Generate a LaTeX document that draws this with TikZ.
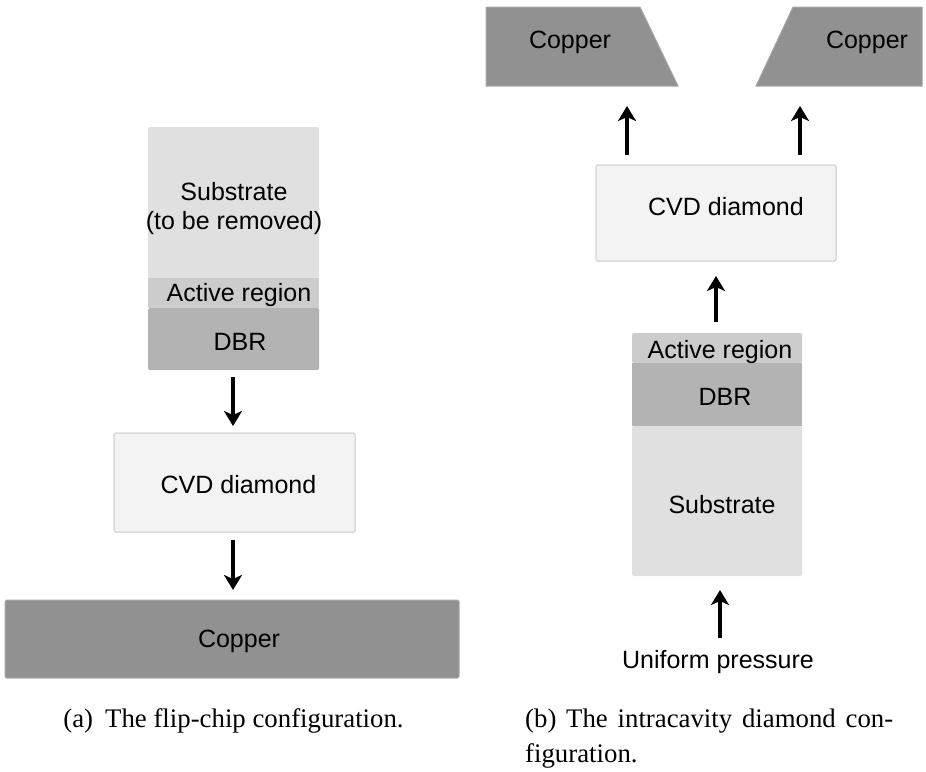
\documentclass[tikz,border=0pt]{standalone}
\usepackage{fontspec}
\setmainfont{Liberation Serif}
\newfontfamily\labelfont{Liberation Sans}
\usetikzlibrary{arrows.meta}
\definecolor{cucol}{HTML}{919191}
\definecolor{subcol}{HTML}{E0E0E0}
\definecolor{actcol}{HTML}{CCCCCC}
\definecolor{dbrcol}{HTML}{B3B3B3}
\definecolor{cvdcol}{HTML}{F3F3F3}
\definecolor{cvdedge}{HTML}{DADADA}
\begin{document}
\begin{tikzpicture}[x=1pt,y=-1pt,
  layer/.style={inner sep=0pt, outer sep=0pt, rounded corners=1.5pt},
  lbl/.style={inner sep=0pt, font=\labelfont\fontsize{25}{29}\selectfont, align=center},
  captext/.style={inner sep=0pt, font=\fontsize{26.8}{32}\selectfont},
  pusharrow/.style={line width=3.5pt, -{Stealth[length=15pt,width=18pt,inset=4pt]}}]
\useasboundingbox (0,0) rectangle (926,771);
% ---------- (a) flip-chip ----------
\node[layer, fill=subcol, minimum width=171pt, minimum height=151pt] (subA) at (233.5,202.5) {};
\node[layer, fill=actcol, minimum width=171pt, minimum height=30pt, rounded corners=0pt] (actA) at (233.5,293) {};
\node[layer, fill=dbrcol, minimum width=171pt, minimum height=62pt] (dbrA) at (233.5,339) {};
\node[lbl] (tsubA) at (234,209) {Substrate\\(to be removed)};
\node[lbl] (tactA) at (239,295) {Active region};
\node[lbl] (tdbrA) at (240,342) {DBR};
\node[layer, fill=cvdcol, draw=cvdedge, line width=1.5pt, minimum width=241pt, minimum height=99pt] (cvdA) at (234.5,482.5) {};
\node[lbl] (tcvdA) at (238.5,485) {CVD diamond};
\node[layer, fill=cucol, draw=cucol!80!white, line width=1pt, minimum width=454pt, minimum height=78pt] (cuA) at (232,639) {};
\node[lbl] (tcuA) at (239,641) {Copper};
\coordinate (a1s) at (233,377); \coordinate (a1e) at (233,426);
\coordinate (a2s) at (233,540); \coordinate (a2e) at (233,590);
\draw[pusharrow] (a1s) -- (a1e);
\draw[pusharrow] (a2s) -- (a2e);
% ---------- (b) intracavity ----------
\draw[fill=cucol, draw=cucol!80!white, line width=1pt] (486,7) -- (640,7) -- (678,86) -- (486,86) -- cycle;
\draw[fill=cucol, draw=cucol!80!white, line width=1pt] (793,7) -- (922,7) -- (922,86) -- (756,86) -- cycle;
\node[lbl] (tcuL) at (570,42) {Copper};
\node[lbl] (tcuR) at (867,42) {Copper};
\node[layer, fill=cvdcol, draw=cvdedge, line width=1.5pt, minimum width=240pt, minimum height=96pt] (cvdB) at (716,213) {};
\node[lbl] (tcvdB) at (726,207) {CVD diamond};
\node[layer, fill=actcol, minimum width=170pt, minimum height=30pt] (actB) at (717,348) {};
\node[layer, fill=dbrcol, minimum width=170pt, minimum height=63pt, rounded corners=0pt] (dbrB) at (717,394.5) {};
\node[layer, fill=subcol, minimum width=170pt, minimum height=150pt] (subB) at (717,501) {};
\node[lbl] (tactB) at (720,352) {Active region};
\node[lbl] (tdbrB) at (725,397) {DBR};
\node[lbl] (tsubB) at (722,505) {Substrate};
\node[lbl] (tpress) at (718,662) {Uniform pressure};
\coordinate (b1s) at (627,155); \coordinate (b1e) at (627,106);
\coordinate (b2s) at (800,155); \coordinate (b2e) at (800,106);
\coordinate (b3s) at (716,322); \coordinate (b3e) at (716,276);
\coordinate (b4s) at (720,638); \coordinate (b4e) at (720,590);
\draw[pusharrow] (b1s) -- (b1e);
\draw[pusharrow] (b2s) -- (b2e);
\draw[pusharrow] (b3s) -- (b3e);
\draw[pusharrow] (b4s) -- (b4e);
% ---------- captions ----------
\node[captext, anchor=base] (capA) at (233.5,727) {(a)\hspace{0.45em}The flip-chip configuration.};
\node[captext, anchor=base west] (capB) at (525,727) {\makebox[368pt][s]{(b) The intracavity diamond con-}};
\node[captext, anchor=base west] (capB2) at (525,762) {figuration.};
\end{tikzpicture}
\end{document}
